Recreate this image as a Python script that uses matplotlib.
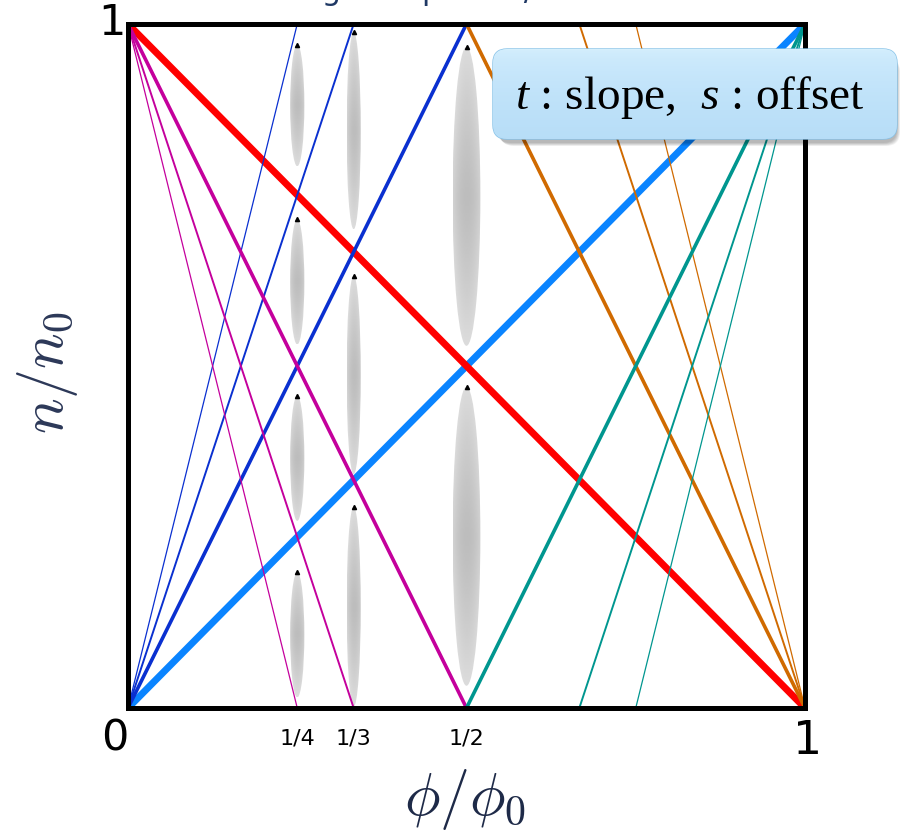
import numpy as np
import matplotlib
matplotlib.use('Agg')
from matplotlib import pyplot as plt
from matplotlib.patches import Ellipse, FancyBboxPatch

plt.rcParams['mathtext.fontset'] = 'custom'
plt.rcParams['mathtext.rm'] = 'Liberation Serif'
plt.rcParams['mathtext.it'] = 'Liberation Serif:italic'

# lines n = t*phi + s
thickSlopes = [1, -1]
thickOffsets = [0, 1]
thickColors = ['#0a84ff', '#ff0000']

slopes = [2, 3, 4, -2, -3, -4, -2, -3, -4, 2, 3, 4]
offsets = [0, 0, 0, 1, 1, 1, 2, 3, 4, -1, -2, -3]
lineColors = ['#0a30d0'] * 3 + ['#c4009c'] * 3 + ['#d06a00'] * 3 + ['#00968f'] * 3
widths = [2.6, 1.4, 0.9] * 4

# gray bands (phi, centre, height, width)
bandPhi = [0.25, 0.25, 0.25, 0.25, 1/3, 1/3, 1/3, 0.5, 0.5]
bandCentre = [0.881, 0.623, 0.365, 0.107, 0.844, 0.487, 0.148, 0.748, 0.251]
bandHeight = [0.178, 0.183, 0.183, 0.183, 0.288, 0.29, 0.292, 0.437, 0.437]
bandWidth = [0.021, 0.021, 0.021, 0.021, 0.021, 0.021, 0.021, 0.041, 0.041]

xtickPos = [0.25, 1/3, 0.5]
xtickLabels = ['1/4', '1/3', '1/2']

fig = plt.figure(figsize=(9, 8.37), dpi=100)
ax = fig.add_axes([128/900, 128/837, 677/900, 684/837])

# gradient for the bands: darker in the middle, light towards the tips
u = np.linspace(-1, 1, 80)
U, V = np.meshgrid(u, u)
grad = np.clip(0.74 + 0.12*np.abs(V)**1.3 + 0.08*U**2, 0, 1)

for p, c, h, w in zip(bandPhi, bandCentre, bandHeight, bandWidth):
    e = Ellipse((p, c), w, h, transform=ax.transData, facecolor='none', edgecolor='none')
    ax.add_patch(e)
    im = ax.imshow(grad, extent=[p - w/2, p + w/2, c - h/2, c + h/2], cmap='gray',
                   vmin=0, vmax=1, aspect='auto', zorder=1, interpolation='bilinear')
    im.set_clip_path(e)
    ax.plot(p, c + h/2, marker='^', ms=3, color='k', zorder=1.5)

phi = np.array([0.0, 1.0])
for t, s, col in zip(thickSlopes, thickOffsets, thickColors):
    ax.plot(phi, t*phi + s, color=col, lw=5, zorder=3, solid_capstyle='butt')
for t, s, col, lw in zip(slopes, offsets, lineColors, widths):
    ax.plot(phi, t*phi + s, color=col, lw=lw, zorder=4)

ax.set_xlim(0, 1)
ax.set_ylim(0, 1)
ax.set_xticks([])
ax.set_yticks([])
for sp in ax.spines.values():
    sp.set_linewidth(3.6)
    sp.set_zorder(10)

# tick labels
for p, lab in zip(xtickPos, xtickLabels):
    ax.text(p, -0.043, lab, transform=ax.get_xaxis_transform(), ha='center', va='center',
            fontsize=16)
ax.text(-0.02, -0.043, '0', transform=ax.transAxes, ha='center', va='center', fontsize=31)
ax.text(1.004, -0.048, '1', transform=ax.transAxes, ha='center', va='center', fontsize=33)
ax.text(-0.023, 1.003, '1', transform=ax.transAxes, ha='center', va='center', fontsize=31)

fig.text(465/900, 1 - 800/837, r'$\phi/\phi_0$', math_fontfamily='cm', fontsize=43,
         ha='center', va='center', color='#1e2a48')
fig.text(47/900, 1 - 373/837, r'$n/n_0$', math_fontfamily='cm', fontsize=43,
         ha='center', va='center', rotation=90, color='#2c3858')

# title, cut off at the top edge as in the original slide
fig.text(140/900, 1.0, 'Wannier diagram: phase / flux', fontsize=22, color='#1f3864',
         ha='left', va='baseline')

# callout box
bx = fig.add_axes([0, 0, 1, 1], zorder=20)
bx.set_xlim(0, 900)
bx.set_ylim(837, 0)
bx.axis('off')
for k in range(6):
    sh = FancyBboxPatch((495 + 2 + k*0.6, 52 + 4 + k*0.6), 400, 88,
                        boxstyle='round,pad=0,rounding_size=14', facecolor='#000000',
                        edgecolor='none', alpha=0.05)
    bx.add_patch(sh)
box = FancyBboxPatch((493, 50), 404, 90, boxstyle='round,pad=0,rounding_size=14',
                     facecolor='none', edgecolor='#86c2e8', lw=1)
bx.add_patch(box)
g = np.linspace(0, 1, 100)[:, None]
boxGrad = np.concatenate([
    (0.84 - 0.12*g**0.5), (0.94 - 0.07*g**0.5), (0.99 - 0.02*g)], axis=1)
boxImg = np.repeat(boxGrad[:, None, :], 2, axis=1)
bim = bx.imshow(boxImg, extent=[493, 897, 140, 50], aspect='auto', zorder=1,
                interpolation='bilinear')
bim.set_clip_path(box)
bx.set_xlim(0, 900)
bx.set_ylim(837, 0)
bx.text(515, 97, r'$t$ : slope,  $s$ : offset', fontsize=34, family='Liberation Serif',
        ha='left', va='center', zorder=3)

fig.savefig('out.png', dpi=100)
